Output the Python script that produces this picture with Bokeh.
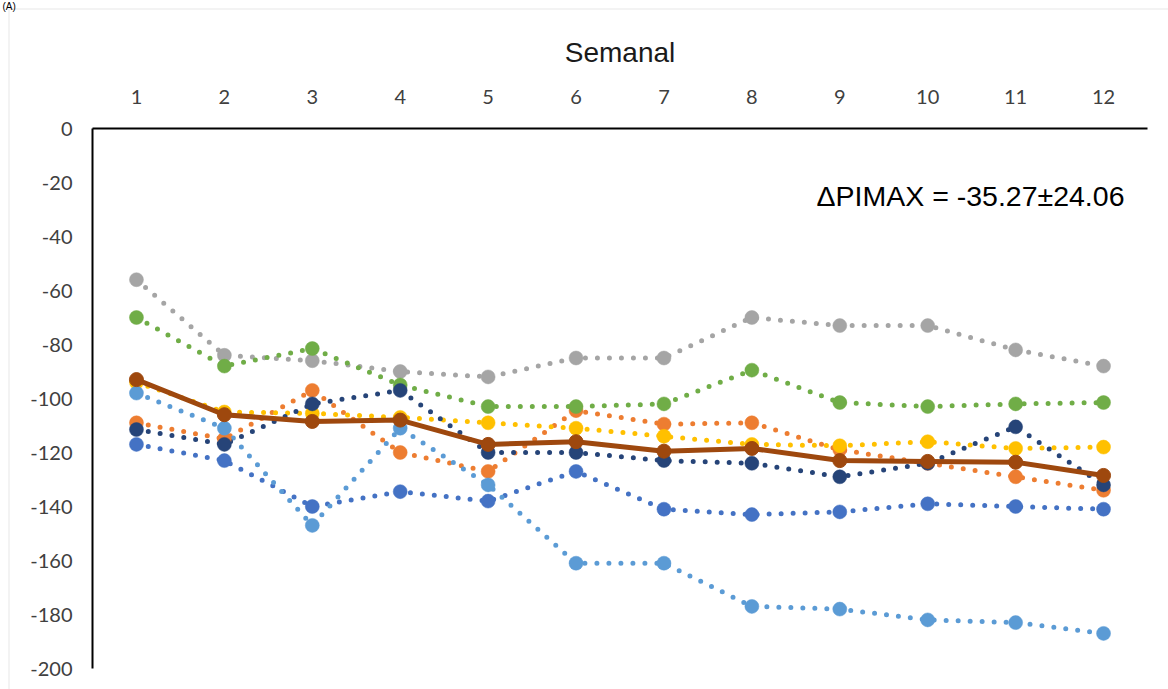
from bokeh.plotting import figure
from bokeh.models import Range1d, FixedTicker, Label, BoxAnnotation
from bokeh.embed import file_html
from bokeh.resources import INLINE

# ---- data ----
weeks = [1, 2, 3, 4, 5, 6, 7, 8, 9, 10, 11, 12]

s_medium_blue = [-117, -123, -140, -134.5, -138, -127, -141, -143, -142, -139, -140, -141]
s_orange = [-109, -115, -97, -120, -127, -104.5, -109.5, -109, -119, -124, -129, -134]
s_gray = [-56, -84, -86, -90, -92, -85, -85, -70, -73, -73, -82, -88]
s_yellow = [-94, -105, -105.5, -107, -109, -111, -114, -117, -117.5, -116, -118.5, -118]
s_light_blue = [-98, -111, -147, -111, -132, -161, -161, -177, -178, -182, -183, -187]
s_green = [-70, -88, -81.5, -95, -103, -103, -102, -89.5, -101.5, -103, -102, -101.5]
s_dark_blue = [-111.5, -117, -102, -97, -120, -120, -123, -124, -129, -124, -110.5, -132]
s_mean = [-93, -106, -108.5, -108, -117, -116, -119.5, -118.5, -123, -123.3, -123.6, -128.5]

y_ticks = [0, -20, -40, -60, -80, -100, -120, -140, -160, -180, -200]
y_tick_labels = ["0", "-20", "-40", "-60", "-80", "-100", "-120", "-140", "-160", "-180", "-200"]
x_title = "Semanal"
annotation_text = "ΔPIMAX = -35.27±24.06"
panel_tag = "(A)"

series = [
    (s_medium_blue, "#4472C4"),
    (s_orange, "#ED7D31"),
    (s_gray, "#A5A5A5"),
    (s_yellow, "#FFC000"),
    (s_light_blue, "#5B9BD5"),
    (s_green, "#70AD47"),
    (s_dark_blue, "#264478"),
]
mean_color = "#9E480E"

# ---- layout constants (pixels) ----
W, H = 1168, 689
AX_LEFT, AX_RIGHT = 92, 1147      # pixel span of x 0.5 .. 12.5
AX_TOP, AX_BOTTOM = 128, 668      # pixel span of y 0 .. -200
px_x = (AX_RIGHT - AX_LEFT) / 12.0
px_y = (AX_BOTTOM - AX_TOP) / 200.0


def dx(px):
    return 0.5 + (px - AX_LEFT) / px_x


def dy(py):
    return (AX_TOP - py) / px_y


p = figure(
    width=W, height=H,
    output_backend="svg", toolbar_location=None,
    x_range=Range1d(dx(0), dx(W)), y_range=Range1d(dy(H), dy(0)),
    x_axis_location="above",
    min_border=0, min_border_left=0, min_border_right=0,
    min_border_top=0, min_border_bottom=0,
)
p.xgrid.visible = False
p.ygrid.visible = False
p.outline_line_color = None
p.background_fill_color = "white"
p.border_fill_color = "white"

# chart-area border (light gray)
p.add_layout(BoxAnnotation(left=dx(8.5), right=dx(W + 50), top=dy(8.5), bottom=dy(H + 50),
                           fill_color=None, fill_alpha=0,
                           line_color="#D6D6D6", line_width=2, level="underlay"))

xa = p.xaxis[0]
xa.fixed_location = 0
xa.bounds = (0.5, 12.5)
xa.ticker = FixedTicker(ticks=weeks)
xa.axis_line_color = "black"
xa.axis_line_width = 2
xa.major_tick_line_color = None
xa.minor_tick_line_color = None
xa.major_tick_out = 0
xa.major_tick_in = 0
xa.major_label_text_font = "Lato"
xa.major_label_text_font_size = "20px"
xa.major_label_text_color = "#404040"
xa.major_label_standoff = 25
xa.axis_label = x_title
xa.axis_label_text_font = "Liberation Sans"
xa.axis_label_text_font_size = "28px"
xa.axis_label_text_font_style = "normal"
xa.axis_label_text_color = "#1a1a1a"
xa.axis_label_standoff = 19

ya = p.yaxis[0]
ya.fixed_location = 0.5
ya.bounds = (-200, 0)
ya.ticker = FixedTicker(ticks=y_ticks)
ya.major_label_overrides = {t: lab for t, lab in zip(y_ticks, y_tick_labels)}
ya.axis_line_color = "black"
ya.axis_line_width = 2
ya.major_tick_line_color = None
ya.minor_tick_line_color = None
ya.major_tick_out = 0
ya.major_tick_in = 0
ya.major_label_text_font = "Lato"
ya.major_label_text_font_size = "20px"
ya.major_label_text_color = "#404040"
ya.major_label_standoff = 20

# dotted series lines
for vals, col in series:
    p.line(weeks, vals, line_color=col, line_width=5, line_dash="0 12",
           line_cap="round", line_join="round")
# dotted series markers
for vals, col in series:
    p.scatter(weeks, vals, marker="circle", size=14, fill_color=col,
              line_color=col, line_width=0.5)

# mean line
p.line(weeks, s_mean, line_color=mean_color, line_width=5, line_join="round")
p.scatter(weeks, s_mean, marker="circle", size=14, fill_color=mean_color,
          line_color=mean_color)

# annotation text
p.add_layout(Label(x=dx(816), y=dy(195.7), text=annotation_text,
                   text_font="Liberation Sans", text_font_size="28.5px",
                   text_color="black", text_baseline="alphabetic",
                   text_align="left"))
p.add_layout(Label(x=dx(2), y=dy(0), text=panel_tag,
                   text_font="Liberation Sans", text_font_size="10px",
                   text_color="black", text_baseline="top",
                   text_align="left"))

open("out.html", "w").write(file_html(p, INLINE))
